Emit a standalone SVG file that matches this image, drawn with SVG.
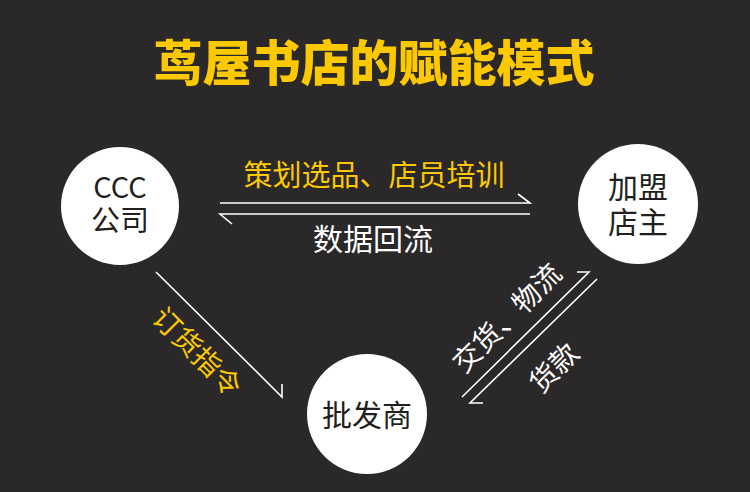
<svg xmlns="http://www.w3.org/2000/svg" width="750" height="492" viewBox="0 0 750 492">
<style>
.t{font-family:"Noto Sans CJK SC","Noto Sans",sans-serif;text-anchor:middle}
.y{fill:#fcc800}
.w{fill:#ffffff}
.k{fill:#231f20}
.ln{stroke:#ffffff;stroke-width:1.6;fill:none}
.c{fill:#ffffff}
</style>
<rect width="750" height="492" fill="#2b2829"/>
<text class="t y" x="374" y="81" font-size="49" font-weight="900">茑屋书店的赋能模式</text>
<g id="node-ccc">
<circle class="c" cx="120" cy="206" r="59"/>
<text class="t k" font-size="29"><tspan x="120" y="198">CCC</tspan><tspan x="120" y="231">公司</tspan></text>
</g>
<g id="node-franchise">
<circle class="c" cx="638" cy="204" r="60"/>
<text class="t k" font-size="30"><tspan x="638" y="198">加盟</tspan><tspan x="638" y="233">店主</tspan></text>
</g>
<g id="node-wholesaler">
<circle class="c" cx="367" cy="414" r="60"/>
<text class="t k" x="367" y="426" font-size="30">批发商</text>
</g>
<g id="connectors">
<path class="ln" d="M220,203 H530 L518,194"/>
<path class="ln" d="M530,214 H220 L232,224"/>
<path class="ln" d="M156,272 L282,397 V384"/>
<path class="ln" d="M462,397 L589,272 H577"/>
<path class="ln" d="M597,279 L470,403 H483"/>
<text class="t y" x="374" y="186" font-size="29">策划选品、店员培训</text>
<text class="t w" x="373" y="250" font-size="30">数据回流</text>
<text class="t y" font-size="28" transform="translate(197,352) rotate(45)" y="10">订货指令</text>
<text class="t w" font-size="28" transform="translate(507,318) rotate(-45)" y="10">交货、物流</text>
<text class="t w" font-size="28" transform="translate(554,368) rotate(-45)" y="10">货款</text>
</g>
</svg>
